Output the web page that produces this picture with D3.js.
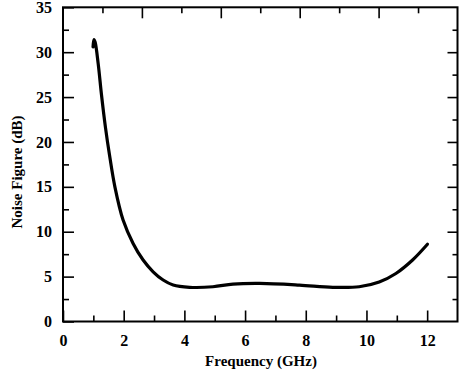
<!DOCTYPE html>
<html>
<head>
<meta charset="utf-8">
<script src="https://cdn.jsdelivr.net/npm/d3@7"></script>
<style>
  body { margin: 0; background: #fff; }
  text { font-family: "Liberation Serif", "Times New Roman", serif; font-weight: bold; }
</style>
</head>
<body>
<div id="chart"></div>
<script>
var freq = [0.99, 1.02, 1.06, 1.16, 1.27, 1.40, 1.53, 1.71, 1.98, 2.31, 2.64, 2.97, 3.30, 3.63,
            4.17, 4.94, 5.60, 6.48, 7.79, 8.89, 9.76, 10.42, 10.97, 11.52, 12.01];
var nf = [30.6, 31.4, 31.1, 28.7, 25.2, 21.6, 18.6, 15.0, 11.3, 8.7, 6.85, 5.54, 4.62, 4.06,
          3.81, 3.87, 4.17, 4.25, 4.06, 3.81, 3.87, 4.40, 5.35, 6.85, 8.6];
var xMajor = [0, 2, 4, 6, 8, 10, 12];
var xMinor = [1, 3, 5, 7, 9, 11];
var yMajor = [0, 5, 10, 15, 20, 25, 30, 35];
var yMinor = [2.5, 7.5, 12.5, 17.5, 22.5, 27.5, 32.5];
var topMajor = [2, 4, 6, 8];
var topMinor = [1, 3, 5, 7, 9];

var W = 459, H = 375;
var pL = 63, pR = 457.5, pT = 7.3, pB = 321.5;

var svg = d3.select("#chart").append("svg")
            .attr("width", W)
            .attr("height", H);

var x = d3.scaleLinear().domain([0, 13]).range([pL, pR]);
var y = d3.scaleLinear().domain([0, 35]).range([pB, pT]);
var xTop = d3.scaleLinear().domain([0, 10]).range([pL, pR]);

function styleAxis(g) {
    g.selectAll(".domain").remove();
    g.selectAll("line").attr("stroke", "#000").attr("stroke-width", 1.6);
    g.selectAll("text").attr("font-size", 16).attr("fill", "#000");
}

// bottom
svg.append("g").attr("transform", "translate(0," + pB + ")")
   .call(d3.axisBottom(x).tickValues(xMajor).tickSize(-11).tickPadding(13))
   .call(styleAxis);
svg.append("g").attr("transform", "translate(0," + pB + ")")
   .call(d3.axisBottom(x).tickValues(xMinor).tickSize(-6).tickFormat(""))
   .call(styleAxis);

// left
svg.append("g").attr("transform", "translate(" + pL + ",0)")
   .call(d3.axisLeft(y).tickValues(yMajor).tickSize(-11).tickPadding(11))
   .call(styleAxis);
svg.append("g").attr("transform", "translate(" + pL + ",0)")
   .call(d3.axisLeft(y).tickValues(yMinor).tickSize(-6).tickFormat(""))
   .call(styleAxis);

// right
svg.append("g").attr("transform", "translate(" + pR + ",0)")
   .call(d3.axisRight(y).tickValues(yMajor.slice(1, 7)).tickSize(-10).tickFormat(""))
   .call(styleAxis);
svg.append("g").attr("transform", "translate(" + pR + ",0)")
   .call(d3.axisRight(y).tickValues(yMinor).tickSize(-5).tickFormat(""))
   .call(styleAxis);

// top
svg.append("g").attr("transform", "translate(0," + pT + ")")
   .call(d3.axisTop(xTop).tickValues(topMajor).tickSize(-11).tickFormat(""))
   .call(styleAxis);
svg.append("g").attr("transform", "translate(0," + pT + ")")
   .call(d3.axisTop(xTop).tickValues(topMinor).tickSize(-6).tickFormat(""))
   .call(styleAxis);

// frame
svg.append("rect")
   .attr("x", pL).attr("y", pT)
   .attr("width", pR - pL).attr("height", pB - pT)
   .attr("fill", "none").attr("stroke", "#000").attr("stroke-width", 2);

// curve
var pts = freq.map(function(f, i) { return [f, nf[i]]; });
var line = d3.line()
             .x(function(d) { return x(d[0]); })
             .y(function(d) { return y(d[1]); })
             .curve(d3.curveCatmullRom);

svg.append("path")
   .datum(pts)
   .attr("d", line)
   .attr("fill", "none")
   .attr("stroke", "#000")
   .attr("stroke-width", 3.2)
   .attr("stroke-linecap", "round")
   .attr("stroke-linejoin", "round");

// titles
svg.append("text")
   .attr("x", 261).attr("y", 366)
   .attr("text-anchor", "middle")
   .attr("font-size", 15)
   .text("Frequency (GHz)");

svg.append("text")
   .attr("transform", "translate(22," + 172 + ") rotate(-90)")
   .attr("text-anchor", "middle")
   .attr("font-size", 15)
   .text("Noise Figure (dB)");
</script>
</body>
</html>
